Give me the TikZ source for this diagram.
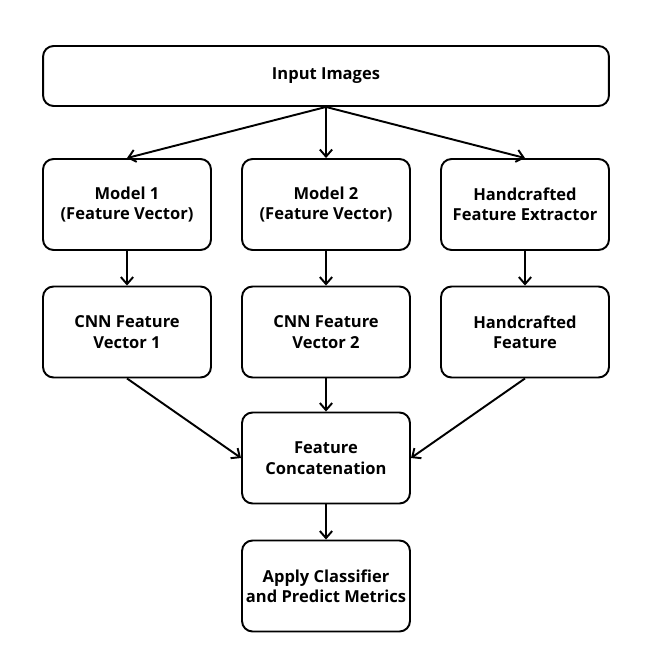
\documentclass[tikz,border=0pt]{standalone}
\usepackage{fontspec}
\setmainfont{Open Sans}
\usetikzlibrary{arrows.meta}
\begin{document}
\begin{tikzpicture}[x = .02cm, y = -.02cm,
		box/.style = {draw, line width = 1.1pt, rounded corners = 6pt, align = center,
			minimum width = 3.36cm, minimum height = 1.82cm, inner sep = 0pt,
			font = \bfseries\fontsize{9.4}{11.6}\selectfont},
		arr/.style = {line width = 1.1pt, -{Straight Barb[length = 4pt, width = 7pt]}}]
	\useasboundingbox (0,0) rectangle (655,672);
	\node[box, minimum width = 11.32cm, minimum height = 1.2cm] (input) at (326,76) {Input Images};
	\node[box] (model1) at (127,204.5) {Model 1\\(Feature Vector)};
	\node[box] (model2) at (326,204.5) {Model 2\\(Feature Vector)};
	\node[box] (extractor) at (525,204.5) {Handcrafted\\Feature Extractor};
	\node[box] (cnn1) at (127,332) {CNN Feature\\Vector 1};
	\node[box] (cnn2) at (326,332) {CNN Feature\\Vector 2};
	\node[box] (hand) at (525,332) {Handcrafted\\Feature};
	\node[box] (concat) at (326,458) {Feature\\Concatenation};
	\node[box] (classify) at (326,586) {Apply Classifier\\and Predict Metrics};
	\draw[arr] (input.south) -- (model1.north);
	\draw[arr] (input.south) -- (model2.north);
	\draw[arr] (input.south) -- (extractor.north);
	\draw[arr] (model1) -- (cnn1);
	\draw[arr] (model2) -- (cnn2);
	\draw[arr] (extractor) -- (hand);
	\draw[arr] (cnn1.south) -- (concat.west);
	\draw[arr] (cnn2) -- (concat);
	\draw[arr] (hand.south) -- (concat.east);
	\draw[arr] (concat) -- (classify);
\end{tikzpicture}
\end{document}
